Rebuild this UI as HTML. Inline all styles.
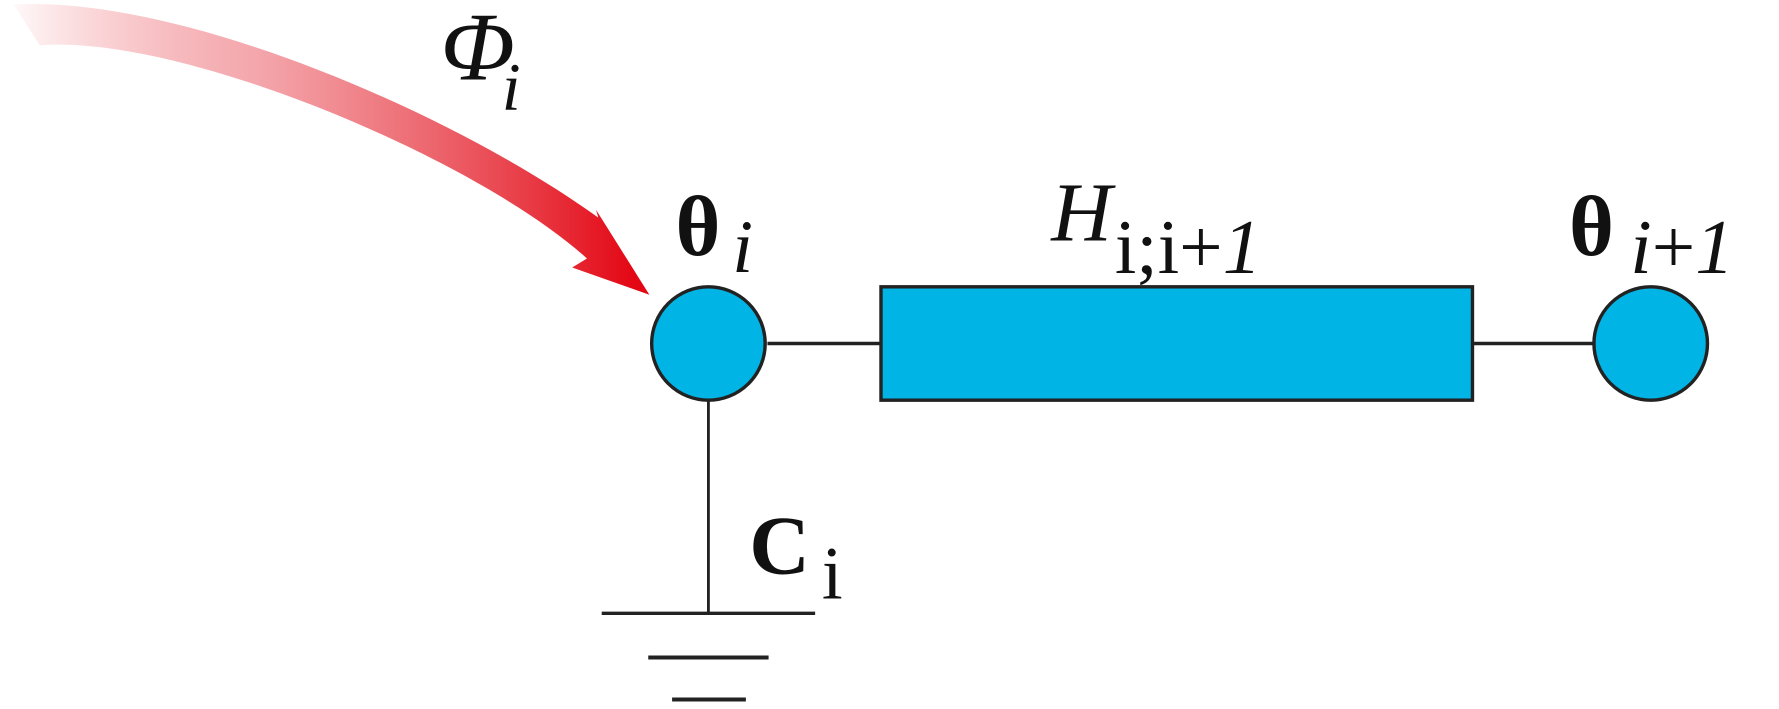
<!DOCTYPE html>
<html><head><meta charset="utf-8"><style>html,body{margin:0;padding:0;background:#fff;overflow:hidden}</style></head>
<body>
<svg width="1779" height="704" viewBox="0 0 1567 621" preserveAspectRatio="none" xmlns="http://www.w3.org/2000/svg">
<defs>
<linearGradient id="g" x1="0" y1="0" x2="560" y2="0" gradientUnits="userSpaceOnUse">
<stop offset="0" stop-color="#e30613" stop-opacity="0"/>
<stop offset="0.4" stop-color="#e8505a" stop-opacity="0.5"/>
<stop offset="1" stop-color="#e30613" stop-opacity="1"/>
</linearGradient>
</defs>
<path d="M12,4 C160,-4 400,100 527,192 L525,185 L572,260 L504,236 L517,228 C420,140 160,30 35,40 Z" fill="url(#g)"/>
<g stroke="#222" stroke-width="3" fill="none">
<line x1="676" y1="303" x2="776" y2="303"/>
<line x1="1297" y1="303" x2="1403" y2="303"/>
<line x1="624" y1="353" x2="624" y2="541" stroke-width="2.5"/>
<line x1="530" y1="541" x2="718" y2="541"/>
<line x1="571" y1="580" x2="677" y2="580" stroke-width="3.5"/>
<line x1="592" y1="617" x2="657" y2="617" stroke-width="3.5"/>
</g>
<g fill="#00b5e5" stroke="#222" stroke-width="3">
<circle cx="624" cy="303" r="50"/>
<circle cx="1454" cy="303" r="50"/>
<rect x="776" y="253" width="521" height="100"/>
</g>
<g font-family="Liberation Serif, serif" fill="#111">
<text x="388" y="70" font-size="86" font-style="italic">Φ</text>
<text x="442" y="97" font-size="60" font-style="italic">i</text>
<text x="595" y="225" font-size="76" font-weight="bold">θ</text>
<text x="645" y="240" font-size="66" font-style="italic">i</text>
<text x="926" y="212" font-size="74" font-style="italic">H</text>
<text x="982" y="241" font-size="68">i;i+<tspan font-style="italic">1</tspan></text>
<text x="1382" y="225" font-size="76" font-weight="bold">θ</text>
<text x="1436" y="241" font-size="68"><tspan font-style="italic">i</tspan>+<tspan font-style="italic">1</tspan></text>
<text x="660" y="506" font-size="74" font-weight="bold">C</text>
<text x="724" y="528" font-size="66">i</text>
</g>
</svg>
</body></html>
